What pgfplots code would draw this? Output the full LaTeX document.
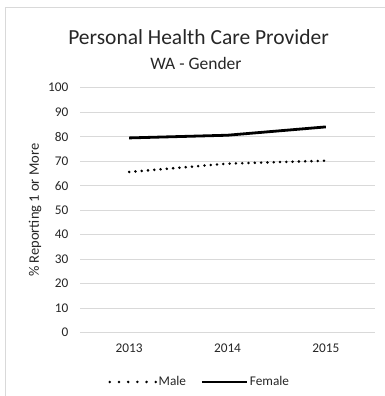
\documentclass[border=0pt]{standalone}
\usepackage{pgfplots}
\pgfplotsset{compat=1.18}
\usepackage{fontspec}
\setmainfont{Carlito}
\definecolor{gridgray}{HTML}{D9D9D9}
\definecolor{framegray}{HTML}{D9D9D9}
\begin{document}
\begin{tikzpicture}
  % fixed canvas
  \useasboundingbox (0pt,0pt) rectangle (385pt,396pt);
  % chart frame (left and top edges)
  \draw[framegray, line width=1pt] (5pt,0pt) -- (5pt,388pt) -- (385pt,388pt);
  % titles
  \node[font=\fontsize{21.5}{24}\selectfont, text=black!85, anchor=base] at (198.5pt,351.7pt) {Personal Health Care Provider};
  \node[font=\fontsize{17.5}{20}\selectfont, text=black!85, anchor=base] at (196pt,326pt) {WA - Gender};
  \begin{axis}[
    at={(80pt,63.3pt)}, anchor=south west,
    scale only axis, width=295pt, height=245pt,
    xmin=-0.5, xmax=2.5, ymin=0, ymax=100,
    xtick={0,1,2}, xticklabels={2013,2014,2015},
    ytick={0,10,...,100},
    axis line style={draw=none},
    major tick length=0pt,
    ymajorgrids, grid style={gridgray, line width=1pt},
    tick label style={font=\fontsize{13.3}{15}\selectfont, text=black!85},
    /pgf/number format/assume math mode=true,
    xticklabel style={yshift=-8pt},
    yticklabel style={xshift=-8pt},
    ylabel={\% Reporting 1 or More},
    ylabel style={font=\fontsize{14.5}{16}\selectfont, text=black!85},
    ylabel shift=0pt,
    legend columns=2,
    legend style={draw=none, fill=none, at={(0.405,-0.201)}, anchor=center,
      font=\fontsize{13.3}{15}\selectfont, text=black!85,
      nodes={inner xsep=1.5pt},
      /tikz/every even column/.append style={column sep=13pt}},
    legend image code/.code={\draw[#1] (0pt,0pt) -- (45pt,0pt);},
    clip=false,
  ]
    \addplot[black, line width=2.8pt, line cap=round, dash pattern=on 0pt off 6.3pt,
      legend image code/.code={\draw[black, line width=2.8pt, line cap=round,
        dash pattern=on 0pt off 9.2pt] (0pt,0pt) -- (46pt,0pt);}] coordinates {
      (0,65.6) (1,69.0) (2,70.2)
    };
    \addlegendentry{Male}
    \addplot[black, line width=2.8pt] coordinates {
      (0,79.5) (1,80.6) (2,84.0)
    };
    \addlegendentry{Female}
  \end{axis}
\end{tikzpicture}
\end{document}
